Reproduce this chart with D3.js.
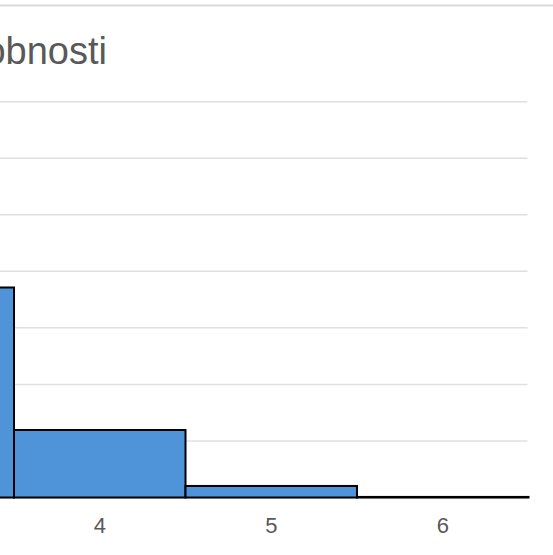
<!DOCTYPE html>
<html>
<head>
<meta charset="utf-8">
<script src="https://cdn.jsdelivr.net/npm/d3@7"></script>
<style>
  body { margin: 0; background: #fff; overflow: hidden; }
  text { font-family: "Liberation Sans", Arial, sans-serif; }
</style>
</head>
<body>
<script>
// histogram bins (the left part of the chart lies outside the window)
const categories = ["3", "4", "5", "6"];
const values = [0.1857, 0.0597, 0.0102, 0.0005];
const yTicks = [0, 0.05, 0.1, 0.15, 0.2, 0.25, 0.3, 0.35];
const title = "Rozdělení pravděpodobnosti";

const width = 553, height = 555;

const svg = d3.select("body").append("svg")
    .attr("width", width)
    .attr("height", height);

const x = d3.scaleBand()
    .domain(categories)
    .range([-157.5, 528.5])
    .padding(0);

const y = d3.scaleLinear()
    .domain([0, 0.35])
    .range([497.5, 101.7]);

// top separator
svg.append("line")
    .attr("x1", 0).attr("x2", width)
    .attr("y1", 5.5).attr("y2", 5.5)
    .attr("stroke", "#d9d9d9")
    .attr("stroke-width", 2);

// title (its start is cut by the window, as in the original)
svg.append("text")
    .attr("x", 107)
    .attr("y", 64)
    .attr("text-anchor", "end")
    .attr("font-size", 38)
    .attr("fill", "#595959")
    .text(title);

// gridlines
svg.append("g")
    .selectAll("line")
    .data(yTicks)
    .enter().append("line")
    .attr("x1", 0)
    .attr("x2", x.range()[1] - 1)
    .attr("y1", function(d) { return y(d); })
    .attr("y2", function(d) { return y(d); })
    .attr("stroke", function(d) { return d == 0 ? "#d0d0d0" : "#e0e0e0"; })
    .attr("stroke-width", function(d) { return d == 0 ? 2 : 1.5; });

// bars
svg.append("g")
    .selectAll("rect")
    .data(values)
    .enter().append("rect")
    .attr("x", function(d, i) { return x(categories[i]); })
    .attr("y", function(d) { return y(d); })
    .attr("width", x.bandwidth())
    .attr("height", function(d) { return y(0) - y(d); })
    .attr("fill", "#4f94d9")
    .attr("stroke", "#000")
    .attr("stroke-width", 2);

// x axis labels, only those whose bin centre is inside the window
svg.append("g")
    .selectAll("text")
    .data(categories.filter(function(d) { return x(d) + x.bandwidth() / 2 > 0; }))
    .enter().append("text")
    .attr("x", function(d) { return x(d) + x.bandwidth() / 2; })
    .attr("y", 533)
    .attr("text-anchor", "middle")
    .attr("font-size", 22)
    .attr("fill", "#595959")
    .text(function(d) { return d; });
</script>
</body>
</html>
